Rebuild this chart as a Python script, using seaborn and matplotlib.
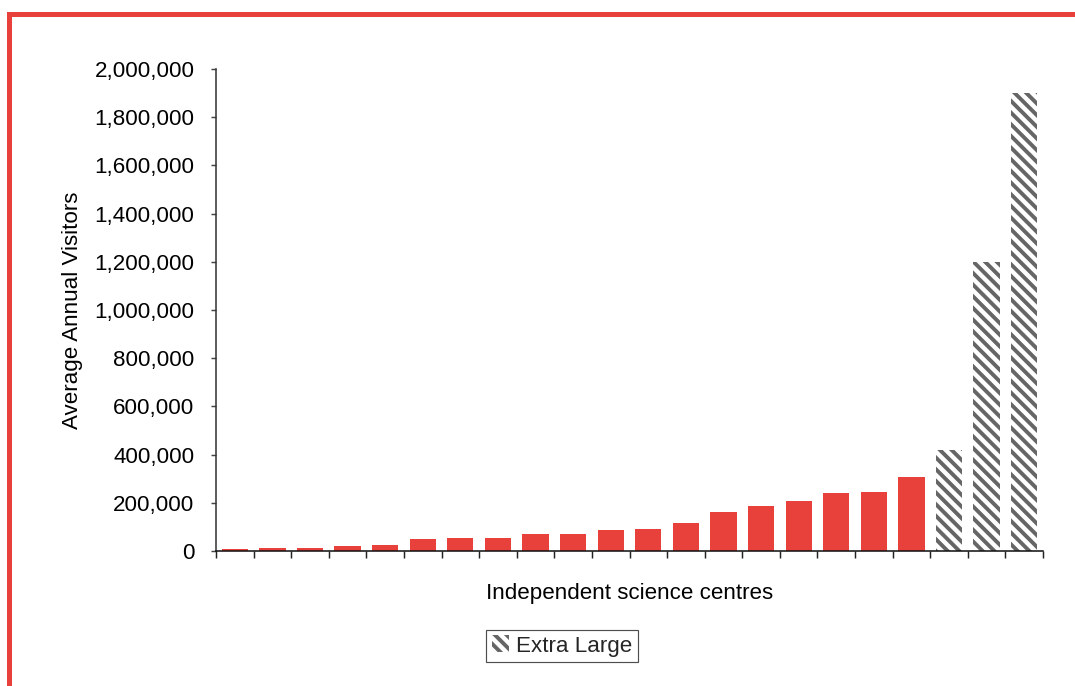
import numpy as np
import pandas as pd
import matplotlib
matplotlib.use("Agg")
import matplotlib.pyplot as plt
import seaborn as sns
from matplotlib.patches import Patch, Rectangle
from matplotlib.ticker import FuncFormatter

# ---- data ----
centres = [f"C{i+1}" for i in range(22)]
visitors = [8000, 12000, 12000, 20000, 25000, 50000, 54000, 54000, 70000, 70000,
            87000, 91000, 116000, 162000, 187000, 207000, 241000, 245000, 307000,
            420000, 1200000, 1900000]
size_class = ["Other"] * 19 + ["Extra Large"] * 3
y_ticks = [0, 200000, 400000, 600000, 800000, 1000000, 1200000, 1400000,
           1600000, 1800000, 2000000]
x_title = "Independent science centres"
y_title = "Average Annual Visitors"
legend_label = "Extra Large"

RED = "#E8403A"
HATCH_GREY = "#666666"
HATCH = "\\\\"

DPI = 70
W, H = 1075, 686
sns.set_theme(style="white")
plt.rcParams["font.family"] = ["Liberation Sans", "DejaVu Sans"]
plt.rcParams["hatch.linewidth"] = 4.0
plt.rcParams["hatch.color"] = HATCH_GREY

df = pd.DataFrame({"centre": centres, "visitors": visitors, "cls": size_class})

fig = plt.figure(figsize=(W / DPI, H / DPI), dpi=DPI)
ax = fig.add_axes([216 / W, 1 - 551 / H, (1043 - 216) / W, (551 - 69) / H])

sns.barplot(data=df, x="centre", y="visitors", hue="cls",
            palette={"Other": RED, "Extra Large": "white"},
            dodge=False, width=0.7, legend=False, ax=ax, saturation=1)

for cont in ax.containers:
    for bar in cont:
        h = bar.get_height()
        if np.isnan(h) or h == 0:
            continue
        idx = int(round(bar.get_x() + bar.get_width() / 2))
        if size_class[idx] == "Extra Large":
            bar.set_facecolor("white")
            bar.set_hatch(HATCH)
            bar.set_edgecolor(HATCH_GREY)
            bar.set_linewidth(0)
        else:
            bar.set_facecolor(RED)
            bar.set_edgecolor(RED)
            bar.set_linewidth(0)

ax.set_xlim(-0.5, len(centres) - 0.5)
ax.set_ylim(0, 2000000)
ax.set_yticks(y_ticks)
ax.yaxis.set_major_formatter(FuncFormatter(lambda v, p: f"{int(v):,}"))
ax.set_xticks(np.arange(-0.5, len(centres), 1.0))
ax.set_xticklabels([])

for s in ["top", "right"]:
    ax.spines[s].set_visible(False)
ax.spines["left"].set_color("#333333")
ax.spines["bottom"].set_color("#111111")
ax.spines["left"].set_linewidth(1.6)
ax.spines["bottom"].set_linewidth(1.6)

ax.tick_params(axis="y", direction="out", length=5, width=1.5, color="#444444",
               labelsize=23, labelcolor="black", pad=17, left=True)
ax.tick_params(axis="x", direction="out", length=7, width=1.5, color="#222222",
               bottom=True)

ax.set_xlabel(x_title, fontsize=23, color="black", labelpad=22)
ax.set_ylabel(y_title, fontsize=23, color="black", labelpad=12)

# legend
handle = Patch(facecolor="white", edgecolor=HATCH_GREY, hatch=HATCH, linewidth=0)
leg = fig.legend([handle], [legend_label], loc="center",
                 bbox_to_anchor=(562 / W, 1 - 646 / H),
                 fontsize=23, frameon=True, fancybox=False,
                 handlelength=0.8, handleheight=0.8, handletextpad=0.3,
                 borderpad=0.25, borderaxespad=0)
leg.get_frame().set_edgecolor("#222222")
leg.get_frame().set_linewidth(1.2)

# red frame (top and left)
fig.add_artist(Rectangle((7 / W, 1 - 17 / H), (W - 7) / W, 5 / H,
                         transform=fig.transFigure, facecolor=RED,
                         edgecolor="none", linewidth=0))
fig.add_artist(Rectangle((7 / W, 0), 5 / W, 1 - 12 / H,
                         transform=fig.transFigure, facecolor=RED,
                         edgecolor="none", linewidth=0))

fig.savefig("out.png", dpi=DPI, facecolor="white")
